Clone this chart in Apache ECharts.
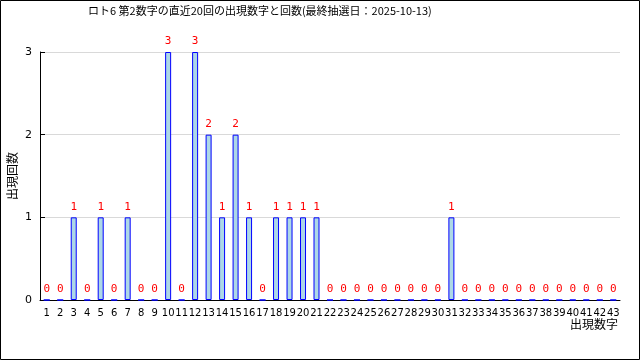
<!DOCTYPE html>
<html><head><meta charset="utf-8">
<script src="https://cdn.jsdelivr.net/npm/echarts@6/dist/echarts.min.js"></script>
<style>html,body{margin:0;padding:0;background:#fff}#c{width:640px;height:360px}</style>
</head><body><div id="c"></div>
<script>
const titleText = 'ロト6 第2数字の直近20回の出現数字と回数(最終抽選日：2025-10-13)';
const categories = ['1','2','3','4','5','6','7','8','9','10','11','12','13','14','15','16','17','18','19','20','21','22','23','24','25','26','27','28','29','30','31','32','33','34','35','36','37','38','39','40','41','42','43'];
const counts = [0,0,1,0,1,0,1,0,0,3,0,3,2,1,2,1,0,1,1,1,1,0,0,0,0,0,0,0,0,0,1,0,0,0,0,0,0,0,0,0,0,0,0];
const yTicks = [0,1,2,3];

const chart = echarts.init(document.getElementById('c'), null, {renderer:'canvas'});
chart.setOption({
  animation:false,
  backgroundColor:'#fff',
  title:{text:titleText,left:83,top:0,textStyle:{fontFamily:'Noto Sans CJK JP',fontSize:11,fontWeight:'normal',color:'#000'}},
  grid:{left:40,right:20,top:52,bottom:60,containLabel:false,outerBoundsMode:'none'},
  xAxis:{type:'category',data:categories,
    axisLine:{lineStyle:{color:'#000',width:1}},
    axisTick:{inside:true,length:5,lineStyle:{color:'#000'}},
    axisLabel:{interval:0,margin:8,fontFamily:'DejaVu Sans',fontSize:10,color:'#000'}},
  yAxis:{type:'value',min:yTicks[0],max:yTicks[yTicks.length-1],interval:1,
    name:'出現回数',nameLocation:'middle',nameGap:22,nameRotate:90,nameMoveOverlap:false,
    nameTextStyle:{fontFamily:'Noto Sans CJK JP',fontSize:12,color:'#000'},
    axisLine:{show:true,lineStyle:{color:'#000'}},
    axisTick:{show:true,inside:true,length:5,lineStyle:{color:'#000'}},
    axisLabel:{margin:8,fontFamily:'DejaVu Sans',fontSize:11,color:'#000'},
    splitLine:{lineStyle:{color:'#d9d9d9'}}},
  series:[{type:'bar',data:counts,barWidth:6,
    itemStyle:{color:'#add8e6',borderColor:'#0000ff',borderWidth:1},
    label:{show:true,position:'top',distance:5,color:'#ff0000',fontFamily:'DejaVu Sans Mono',fontSize:11}}],
  graphic:[
    {type:'text',right:22,top:318,style:{text:'出現数字',font:'12px "Noto Sans CJK JP"',fill:'#000'}},
    {type:'rect',shape:{x:0.5,y:0.5,width:639,height:359},style:{fill:'none',stroke:'#000',lineWidth:1},silent:true}
  ]
});
</script></body></html>
